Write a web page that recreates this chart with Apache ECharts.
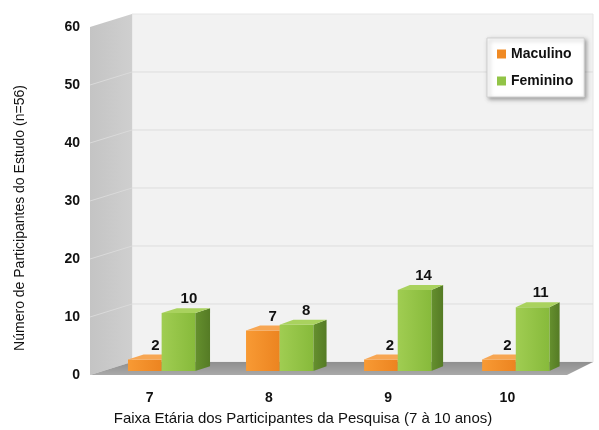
<!DOCTYPE html>
<html>
<head>
<meta charset="utf-8">
<script src="https://cdn.jsdelivr.net/npm/echarts@6/dist/echarts.min.js"></script>
<style>
  html, body { margin: 0; padding: 0; background: #fff; }
  #chart { width: 599px; height: 430px; }
</style>
</head>
<body>
<div id="chart"></div>
<script>
// Age groups (years) and participant counts per sex
var categories = ['7', '8', '9', '10'];
var masculino = [2, 7, 2, 2];
var feminino = [10, 8, 14, 11];
var seriesNames = ['Maculino', 'Feminino'];
var yTicks = [0, 10, 20, 30, 40, 50, 60];

var FONT = '"Liberation Sans", Arial, sans-serif';

// Pseudo-3D projection: t = 0 is the front plane, t = 1 the back wall
var DEPTH_DX_LEFT = 42, DEPTH_DX_RIGHT = 26, DEPTH_DY = -13;
function makeProj(cs) {
  return function (x, y, t) {
    var f = (x - cs.x) / cs.width;
    var dx = DEPTH_DX_LEFT + (DEPTH_DX_RIGHT - DEPTH_DX_LEFT) * f;
    return [x + t * dx, y + t * DEPTH_DY];
  };
}

// Walls, floor and gridlines
function renderScene(params, api) {
  var cs = params.coordSys;
  var p = makeProj(cs);
  var x0 = cs.x, x1 = cs.x + cs.width;
  var yTop = api.coord([0, yTicks[yTicks.length - 1]])[1];
  var yBot = api.coord([0, 0])[1];
  var children = [];
  // back wall
  children.push({ type: 'polygon', shape: { points: [p(x0, yTop, 1), p(x1, yTop, 1), p(x1, yBot, 1), p(x0, yBot, 1)] },
    style: { fill: '#f2f2f2', stroke: '#e6e6e6', lineWidth: 1 } });
  // side wall
  children.push({ type: 'polygon', shape: { points: [p(x0, yTop, 0), p(x0, yTop, 1), p(x0, yBot, 1), p(x0, yBot, 0)] },
    style: { fill: new echarts.graphic.LinearGradient(0, 0, 1, 0, [
      { offset: 0, color: '#c4c4c4' }, { offset: 1, color: '#cfcfcf' }]) } });
  // gridlines
  for (var i = 1; i < yTicks.length - 1; i++) {
    var y = api.coord([0, yTicks[i]])[1];
    var a = p(x0, y, 1), c = p(x1, y, 1), s = p(x0, y, 0);
    children.push({ type: 'line', shape: { x1: a[0], y1: a[1], x2: c[0], y2: c[1] },
      style: { stroke: '#dddddd', lineWidth: 1 } });
    children.push({ type: 'line', shape: { x1: s[0], y1: s[1], x2: a[0], y2: a[1] },
      style: { stroke: '#dadada', lineWidth: 1 } });
  }
  // floor
  children.push({ type: 'polygon', shape: { points: [p(x0, yBot, 0), p(x1, yBot, 0), p(x1, yBot, 1), p(x0, yBot, 1)] },
    style: { fill: new echarts.graphic.LinearGradient(0, 0, 0, 1, [
      { offset: 0, color: '#8f8f8f' }, { offset: 1, color: '#a9a9a9' }]) } });
  return { type: 'group', children: children };
}

var palettes = [
  { front: ['#f89a34', '#ec8420'], side: ['#c8691c', '#b55c16'], top: '#f7a653', main: '#f08a24' },
  { front: ['#a0cd52', '#87ba3b'], side: ['#65902e', '#557b25'], top: '#a9d25e', main: '#92c447' }
];
var T0 = 0.3, T1 = 0.68, BAR_FRAC = 0.285;

function makeBarRenderer(s) {
  var pal = palettes[s];
  return function (params, api) {
    var cs = params.coordSys;
    var p = makeProj(cs);
    var idx = api.value(0), v = api.value(1);
    var base = api.coord([idx, 0]);
    var top = api.coord([idx, v]);
    var band = api.size([1, 0])[0];
    var w = band * BAR_FRAC;
    var xl = base[0] - w + s * w, xr = xl + w;
    var yb = base[1], yt = top[1];
    var lab = p((xl + xr) / 2 + 3, yt, (T0 + T1) / 2);
    return { type: 'group', children: [
      { type: 'polygon', shape: { points: [p(xr, yt, T0), p(xr, yt, T1), p(xr, yb, T1), p(xr, yb, T0)] },
        style: { fill: new echarts.graphic.LinearGradient(0, 0, 1, 0, [
          { offset: 0, color: pal.side[0] }, { offset: 1, color: pal.side[1] }]) } },
      { type: 'polygon', shape: { points: [p(xl, yt, T0), p(xr, yt, T0), p(xr, yb, T0), p(xl, yb, T0)] },
        style: { fill: new echarts.graphic.LinearGradient(0, 0, 1, 0, [
          { offset: 0, color: pal.front[0] }, { offset: 1, color: pal.front[1] }]) } },
      { type: 'polygon', shape: { points: [p(xl, yt, T0), p(xr, yt, T0), p(xr, yt, T1), p(xl, yt, T1)] },
        style: { fill: pal.top } },
      { type: 'text', x: lab[0], y: lab[1] - 4,
        style: { text: String(v), fill: '#111', font: 'bold 15px ' + FONT, align: 'center', verticalAlign: 'bottom' } }
    ] };
  };
}

function seriesData(values) {
  return values.map(function (v, i) { return [i, v]; });
}

var chart = echarts.init(document.getElementById('chart'), null, { renderer: 'canvas' });
chart.setOption({
  animation: false,
  backgroundColor: '#ffffff',
  textStyle: { fontFamily: FONT },
  grid: { left: 90, right: 32, top: 27, bottom: 55 },
  legend: {
    orient: 'vertical',
    left: 487, top: 38,
    padding: [9, 11, 9, 10],
    itemGap: 13,
    itemWidth: 9, itemHeight: 9,
    icon: 'rect',
    backgroundColor: '#ffffff',
    borderColor: '#d0d0d0', borderWidth: 1,
    shadowColor: 'rgba(0,0,0,0.35)', shadowBlur: 4, shadowOffsetX: 2, shadowOffsetY: 2,
    textStyle: { fontFamily: FONT, fontWeight: 'bold', fontSize: 14, color: '#111' },
    data: seriesNames
  },
  xAxis: {
    type: 'category',
    data: categories,
    axisLine: { show: false }, axisTick: { show: false },
    axisLabel: { margin: 16, fontFamily: FONT, fontWeight: 'bold', fontSize: 14, color: '#111' }
  },
  yAxis: {
    type: 'value', min: 0, max: 60, interval: 10,
    splitLine: { show: false },
    axisLine: { show: false }, axisTick: { show: false },
    axisLabel: { margin: 10, fontFamily: FONT, fontWeight: 'bold', fontSize: 14, color: '#111' }
  },
  graphic: [
    { type: 'text', x: 303, y: 419,
      style: { text: 'Faixa Etária dos Participantes da Pesquisa (7 à 10 anos)', font: '15px ' + FONT, fill: '#111', align: 'center', verticalAlign: 'middle' } },
    { type: 'text', x: 20, y: 218, rotation: Math.PI / 2,
      style: { text: 'Número de Participantes do Estudo (n=56)', font: '14px ' + FONT, fill: '#111', align: 'center', verticalAlign: 'middle' } }
  ],
  series: [
    { type: 'custom', name: 'scene', renderItem: renderScene, data: [[0, 0]], z: 1, silent: true },
    { type: 'custom', name: seriesNames[0], renderItem: makeBarRenderer(0), data: seriesData(masculino),
      itemStyle: { color: palettes[0].main }, z: 3, encode: { x: 0, y: 1 } },
    { type: 'custom', name: seriesNames[1], renderItem: makeBarRenderer(1), data: seriesData(feminino),
      itemStyle: { color: palettes[1].main }, z: 4, encode: { x: 0, y: 1 } }
  ]
});
</script>
</body>
</html>
